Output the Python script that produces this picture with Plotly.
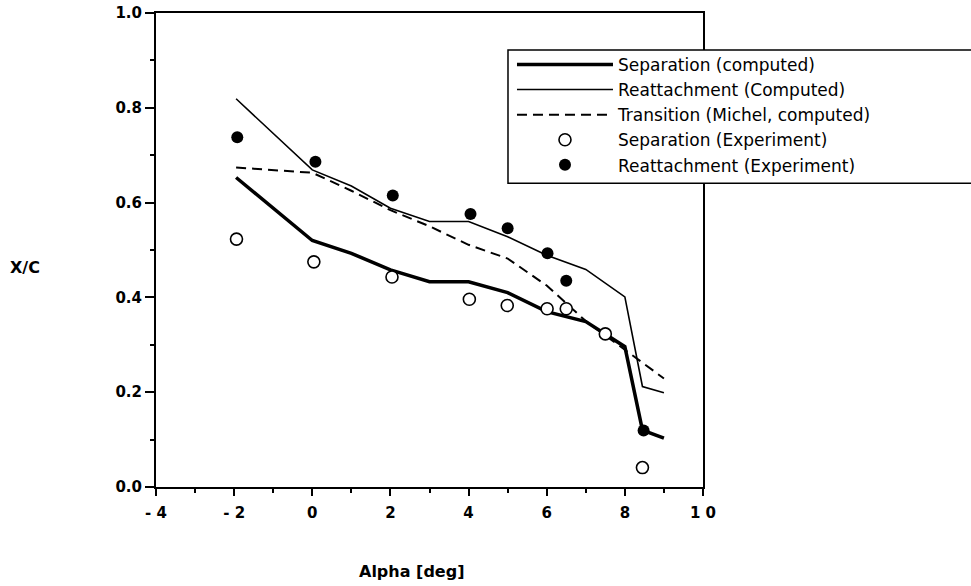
import plotly.graph_objects as go

# Computed boundary-layer locations vs. angle of attack
alpha_comp = [-1.95, 0, 1, 2, 3, 4, 5, 6, 7, 8, 8.45, 9]
sep_comp = [0.653, 0.520, 0.493, 0.458, 0.433, 0.433, 0.410, 0.370, 0.349, 0.296, 0.120, 0.103]
reat_comp = [0.819, 0.669, 0.635, 0.588, 0.560, 0.560, 0.528, 0.489, 0.459, 0.401, 0.212, 0.199]

alpha_trans = [-1.95, 0, 1, 2, 3, 4, 5, 6, 7, 8, 9]
trans_comp = [0.674, 0.663, 0.625, 0.584, 0.550, 0.511, 0.482, 0.425, 0.350, 0.290, 0.229]

# Measured values
alpha_sep_exp = [-1.94, 0.04, 2.04, 4.02, 4.99, 6.01, 6.50, 7.50, 8.45]
sep_exp = [0.523, 0.475, 0.443, 0.396, 0.383, 0.376, 0.376, 0.323, 0.041]
alpha_reat_exp = [-1.92, 0.08, 2.06, 4.05, 5.00, 6.02, 6.50, 8.48]
reat_exp = [0.738, 0.686, 0.615, 0.576, 0.546, 0.493, 0.435, 0.119]

x_tickvals = [-4, -2, 0, 2, 4, 6, 8, 10]
x_ticktext = ["- 4", "- 2", "0", "2", "4", "6", "8", "1 0"]
y_tickvals = [0.0, 0.2, 0.4, 0.6, 0.8, 1.0]

BLACK = "black"
FONT = "DejaVu Sans"

fig = go.Figure()
fig.add_trace(go.Scatter(x=alpha_comp, y=sep_comp, mode="lines",
                         name="Separation (computed)",
                         line=dict(color=BLACK, width=3.5)))
fig.add_trace(go.Scatter(x=alpha_comp, y=reat_comp, mode="lines",
                         name="Reattachment (Computed)",
                         line=dict(color=BLACK, width=1.6)))
fig.add_trace(go.Scatter(x=alpha_trans, y=trans_comp, mode="lines",
                         name="Transition (Michel, computed)",
                         line=dict(color=BLACK, width=2, dash="10px,6px")))
fig.add_trace(go.Scatter(x=alpha_sep_exp, y=sep_exp, mode="markers",
                         name="Separation (Experiment)",
                         marker=dict(symbol="circle", size=12, color="white",
                                     line=dict(color=BLACK, width=1.6))))
fig.add_trace(go.Scatter(x=alpha_reat_exp, y=reat_exp, mode="markers",
                         name="Reattachment (Experiment)",
                         marker=dict(symbol="circle", size=12, color=BLACK,
                                     line=dict(color=BLACK, width=0))))

tickfont = dict(family=FONT, size=15, color=BLACK, weight="bold")

fig.update_xaxes(range=[-4, 10], tickvals=x_tickvals, ticktext=x_ticktext,
                 showline=True, linewidth=2, linecolor=BLACK, mirror=True,
                 ticks="outside", ticklen=7, tickwidth=2, tickcolor=BLACK,
                 minor=dict(dtick=1, ticks="outside", ticklen=4, tickwidth=2, tickcolor=BLACK),
                 showgrid=False, zeroline=False, tickfont=tickfont,
                 ticklabelstandoff=4, automargin=False)
fig.update_yaxes(range=[0, 1], tickvals=y_tickvals, tickformat=".1f",
                 showline=True, linewidth=2, linecolor=BLACK, mirror=True,
                 ticks="outside", ticklen=9, tickwidth=2, tickcolor=BLACK,
                 minor=dict(dtick=0.1, ticks="outside", ticklen=4, tickwidth=2, tickcolor=BLACK),
                 showgrid=False, zeroline=False, tickfont=tickfont,
                 automargin=False)

# Legend frame, running off the right edge of the page
fig.add_shape(type="rect", xref="paper", yref="paper",
              x0=0.6435, x1=1.7, y0=0.641, y1=0.922,
              line=dict(color=BLACK, width=1.5), fillcolor="white", layer="above")

fig.add_annotation(text="X/C", xref="paper", yref="paper", x=-0.2395, y=0.464,
                   xanchor="center", yanchor="middle", showarrow=False,
                   font=dict(family=FONT, size=16, color=BLACK, weight="bold"))
fig.add_annotation(text="Alpha [deg]", xref="paper", yref="paper", x=0.468, y=-0.179,
                   xanchor="center", yanchor="middle", showarrow=False,
                   font=dict(family=FONT, size=16, color=BLACK, weight="bold"))

fig.update_layout(
    width=971, height=586,
    margin=dict(l=156, r=268, t=13, b=99),
    paper_bgcolor="white", plot_bgcolor="white",
    showlegend=True,
    legend=dict(x=0.6508, y=0.785, xanchor="left", yanchor="middle",
                bgcolor="rgba(0,0,0,0)", borderwidth=0, itemwidth=96,
                font=dict(family=FONT, size=17, color=BLACK),
                traceorder="normal"),
)

fig.write_html("out.html")
